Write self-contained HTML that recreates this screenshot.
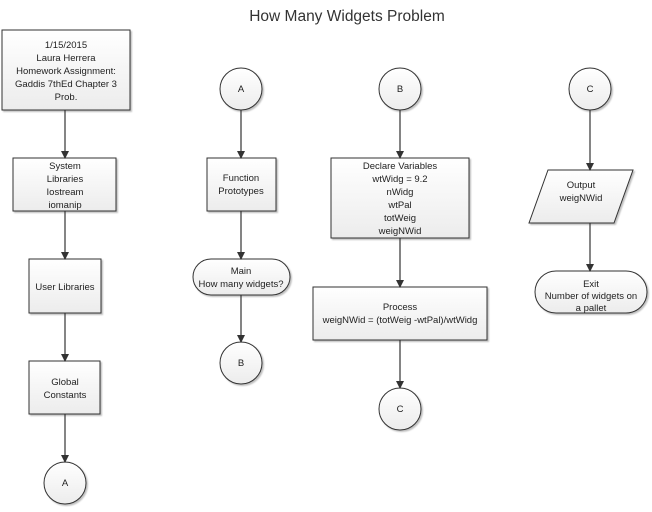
<!DOCTYPE html>
<html><head><style>
body{margin:0;background:#fff;}
svg text{font-family:"Liberation Sans",sans-serif;font-size:9.5px;fill:#222;text-anchor:middle;}
</style></head><body>
<svg width="652" height="507" viewBox="0 0 652 507" xmlns="http://www.w3.org/2000/svg">
<defs>
<linearGradient id="g" x1="0" y1="0" x2="0" y2="1"><stop offset="0" stop-color="#ffffff"/><stop offset="1" stop-color="#ececec"/></linearGradient>
<marker id="a" markerWidth="8" markerHeight="8" refX="7" refY="4" orient="auto" markerUnits="userSpaceOnUse"><path d="M0,0 L8,4 L0,8 z" fill="#333"/></marker>
<filter id="s" x="-10%" y="-10%" width="130%" height="130%"><feDropShadow dx="1.5" dy="1.5" stdDeviation="0.8" flood-color="#000" flood-opacity="0.25"/></filter>
</defs>
<text x="347" y="21" style="font-size:15.5px;fill:#333">How Many Widgets Problem</text>
<g fill="url(#g)" stroke="#333" stroke-width="1" filter="url(#s)">
<rect x="2" y="30" width="128" height="80"/>
<rect x="13" y="158" width="103" height="53"/>
<rect x="29" y="259" width="72" height="54"/>
<rect x="29" y="361" width="71" height="53"/>
<circle cx="65" cy="483" r="21"/>
<circle cx="241" cy="89" r="21"/>
<rect x="207" y="158" width="69" height="53"/>
<rect x="193" y="259" width="97" height="36" rx="18"/>
<circle cx="241" cy="363" r="21"/>
<circle cx="400" cy="89" r="21"/>
<rect x="331" y="158" width="138" height="80"/>
<rect x="313" y="287" width="174" height="53"/>
<circle cx="400" cy="409" r="21"/>
<circle cx="590" cy="89" r="21"/>
<polygon points="548,170 633,170 614,223 529,223"/>
<rect x="535" y="271" width="112" height="42" rx="21"/>
</g>
<g stroke="#333" stroke-width="1.2" marker-end="url(#a)">
<line x1="65" y1="110" x2="65" y2="158"/>
<line x1="65" y1="211" x2="65" y2="259"/>
<line x1="65" y1="313" x2="65" y2="361"/>
<line x1="65" y1="414" x2="65" y2="462"/>
<line x1="241" y1="110" x2="241" y2="158"/>
<line x1="241" y1="211" x2="241" y2="259"/>
<line x1="241" y1="295" x2="241" y2="342"/>
<line x1="400" y1="110" x2="400" y2="158"/>
<line x1="400" y1="238" x2="400" y2="287"/>
<line x1="400" y1="340" x2="400" y2="388"/>
<line x1="590" y1="110" x2="590" y2="170"/>
<line x1="590" y1="223" x2="590" y2="271"/>
</g>
<text x="66" y="48">1/15/2015</text>
<text x="66" y="61">Laura Herrera</text>
<text x="66" y="74">Homework Assignment:</text>
<text x="66" y="87">Gaddis 7thEd Chapter 3</text>
<text x="66" y="100">Prob.</text>
<text x="65" y="169">System</text>
<text x="65" y="182">Libraries</text>
<text x="65" y="195">Iostream</text>
<text x="65" y="208">iomanip</text>
<text x="65" y="290">User Libraries</text>
<text x="65" y="385">Global</text>
<text x="65" y="398">Constants</text>
<text x="65" y="486">A</text>
<text x="241" y="92">A</text>
<text x="241" y="181">Function</text>
<text x="241" y="194">Prototypes</text>
<text x="241" y="274">Main</text>
<text x="241" y="287">How many widgets?</text>
<text x="241" y="366">B</text>
<text x="400" y="92">B</text>
<text x="400" y="169">Declare Variables</text>
<text x="400" y="182">wtWidg = 9.2</text>
<text x="400" y="195">nWidg</text>
<text x="400" y="208">wtPal</text>
<text x="400" y="221">totWeig</text>
<text x="400" y="234">weigNWid</text>
<text x="400" y="310">Process</text>
<text x="400" y="323">weigNWid = (totWeig -wtPal)/wtWidg</text>
<text x="400" y="412">C</text>
<text x="590" y="92">C</text>
<text x="581" y="188">Output</text>
<text x="581" y="201">weigNWid</text>
<text x="591" y="287">Exit</text>
<text x="591" y="299">Number of widgets on</text>
<text x="591" y="311">a pallet</text>
</svg>
</body></html>
